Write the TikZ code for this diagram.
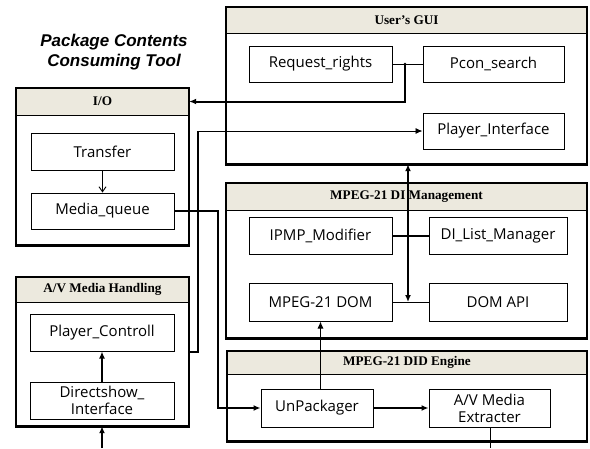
\documentclass[tikz,border=0pt]{standalone}
\usepackage{fontspec}
\setmainfont{Liberation Serif}
\setsansfont{Open Sans}
\newfontfamily\titlefont{Liberation Sans}
\usetikzlibrary{arrows.meta}

\definecolor{headfill}{RGB}{236,233,222}

\tikzset{
  unit/.style={draw, line width=1pt, fill=white, inner sep=0pt, align=center,
    font=\sffamily\fontsize{15}{16}\selectfont},
  headtext/.style={inner sep=0pt, font=\bfseries\fontsize{13.2}{14}\selectfont},
  tip/.style={-{Latex[length=7pt,width=6pt]}},
  heavy/.style={line width=2pt},
  medium/.style={line width=1.4pt},
  light/.style={line width=0.9pt},
}

% panel: name, x1, y1, x2, y2, header bottom, title
\newcommand\mkpanel[7]{%
  \node[inner sep=0pt, minimum width={#4pt-#2pt}, minimum height={#5pt-#3pt}, fill=white]
    (#1) at ({(#2+#4)/2},{(#3+#5)/2}) {};
  \fill[headfill] (#2,#3) rectangle (#4,#6);
  \draw[line width=0.7pt] (#2,#6) -- (#4,#6);
  \node[headtext] (#1-head) at ({(#2+#4)/2},{(#3+#6)/2}) {#7};
  \draw[line width=1.2pt] (#2,#3) rectangle (#4,#5);
  \draw[line width=1.8pt] (#4,#3) -- (#4,#5);
  \draw[line width=3pt] (#2-0.6,#5+0.9) -- (#4+0.9,#5+0.9);
}

\begin{document}
\begin{tikzpicture}[x=1pt, y=-1pt]
\useasboundingbox (0,0) rectangle (590,448);

% title
\node[inner sep=0pt, align=center, font=\titlefont\bfseries\itshape\fontsize{17}{20}\selectfont]
  (title) at (114,52) {Package Contents\\Consuming Tool};

% panels
\mkpanel{io}{16}{88}{189}{245}{115}{I/O}
\mkpanel{gui}{226}{7}{587}{164}{33}{User's GUI}
\mkpanel{dim}{226}{183}{587}{338}{210}{MPEG-21 DI Management}
\mkpanel{avm}{16}{277}{189}{426}{302}{A/V Media Handling}
\mkpanel{did}{227}{351}{587}{441}{374}{MPEG-21 DID Engine}

% I/O
\node[unit, minimum width=143pt, minimum height=37pt] (transfer) at (102.5,151.5) {Transfer};
\node[unit, minimum width=143pt, minimum height=36pt] (mq) at (102.5,211) {Media\_queue};

% User's GUI
\node[unit, minimum width=143pt, minimum height=36pt] (req) at (320.5,64) {Request\_rights};
\node[unit, minimum width=141pt, minimum height=36pt] (pcon) at (493.5,64) {Pcon\_search};
\node[unit, minimum width=141pt, minimum height=36pt] (pif) at (493.5,131) {Player\_Interface};

% DI management
\node[unit, minimum width=143pt, minimum height=37pt] (ipmp) at (320.5,235.5) {IPMP\_Modifier};
\node[unit, minimum width=138pt, minimum height=37pt] (dilm) at (498,235.5) {DI\_List\_Manager};
\node[unit, minimum width=143pt, minimum height=38pt] (dom) at (320.5,302) {MPEG-21 DOM};
\node[unit, minimum width=138pt, minimum height=38pt] (domapi) at (498,302) {DOM API};

% A/V media handling
\node[unit, minimum width=144pt, minimum height=37pt] (pctl) at (102,332.5) {Player\_Controll};
\node[unit, minimum width=144pt, minimum height=37pt, font=\sffamily\fontsize{15}{17}\selectfont]
  (dsi) at (102,400.5) {Directshow\_\\Interface};

% DID engine
\node[unit, minimum width=112pt, minimum height=38pt] (unp) at (317,408) {UnPackager};
\node[unit, minimum width=121pt, minimum height=38pt, font=\sffamily\fontsize{15}{17}\selectfont]
  (avx) at (489.5,408) {A/V Media\\Extracter};

% junction and rail points
\coordinate (jreq) at (405,64);
\coordinate (jdom) at (408,302);
\coordinate (railA) at (198,131);
\coordinate (railB) at (218,211);
\coordinate (outA) at (490,448);
\coordinate (inA) at (102,448);

% connectors
\draw[light, -{Straight Barb[length=5pt,width=7pt]}] (transfer) -- (mq);
\draw[light] (req.east) -- (pcon.west);
\fill (jreq) circle (1.3pt);
\draw[heavy, tip] (jreq) |- (io.east |- io-head);
\draw[heavy] (avm.east |- pctl.south) -| (railA);
\draw[light, tip] (railA) -- (pif.west);
\draw[heavy, tip] (mq.east) -- (railB) |- (unp.west);
\draw[medium, tip] (unp.east) -- (avx.west);
\draw[light, tip] (unp.north -| dom.south) -- (dom.south);
\draw[heavy] (ipmp.east) -- (dilm.west);
\draw[light] (dom.east) -- (domapi.west);
\draw[medium, {Latex[length=7pt,width=6pt]}-{Latex[length=7pt,width=6pt]}] (gui.south -| jdom) -- (jdom);
\draw[light] (avx.south -| outA) -- (outA);
\draw[medium, tip] (inA) -- (avm.south -| inA);
\draw[medium, tip] (dsi.north) -- (pctl.south);
\end{tikzpicture}
\end{document}
